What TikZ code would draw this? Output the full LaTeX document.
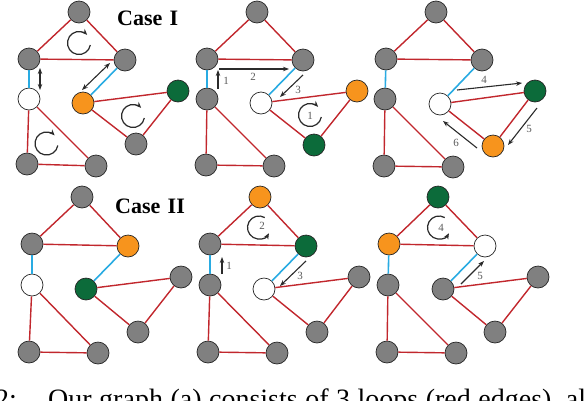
\documentclass[tikz,border=0pt]{standalone}
\usepackage{fontspec}
\setmainfont{Liberation Serif}
\usetikzlibrary{arrows.meta}
\definecolor{ngray}{HTML}{808080}
\definecolor{norange}{HTML}{F7941D}
\definecolor{ngreen}{HTML}{0C6B3A}
\definecolor{ered}{HTML}{C1272D}
\definecolor{eblue}{HTML}{29ABE2}
\definecolor{arrc}{HTML}{2B2B2B}
\definecolor{lblc}{HTML}{5A5A5A}
\tikzset{
  nd/.style={circle, draw=black!85, line width=0.7pt, minimum size=22pt, inner sep=0pt},
  gr/.style={nd, fill=ngray},
  wh/.style={nd, fill=white},
  og/.style={nd, fill=norange},
  gn/.style={nd, fill=ngreen},
  re/.style={draw=ered, line width=1.4pt},
  be/.style={draw=eblue, line width=1.6pt},
  ar/.style={draw=arrc, line width=1.1pt, -{Stealth[length=6pt,width=4.5pt]}},
  dar/.style={draw=arrc, line width=1.1pt, {Stealth[length=6pt,width=4.5pt]}-{Stealth[length=6pt,width=4.5pt]}},
  loopa/.style={draw=arrc, line width=1.2pt, -{Stealth[length=6pt,width=5pt]}},
  lbl/.style={inner sep=0pt, text=lblc, font=\fontsize{11}{12}\selectfont},
  casel/.style={inner sep=0pt, anchor=base west, font=\fontsize{22}{24}\selectfont\bfseries},
}
\newcommand{\panelEdges}[1]{%
  \draw[re] (#1 1) -- (#1 2); \draw[re] (#1 1) -- (#1 3); \draw[re] (#1 2) -- (#1 3);
  \draw[re] (#1 5) -- (#1 6); \draw[re] (#1 5) -- (#1 7); \draw[re] (#1 6) -- (#1 7);
  \draw[re] (#1 4) -- (#1 8); \draw[re] (#1 4) -- (#1 9); \draw[re] (#1 8) -- (#1 9);
  \draw[be] (#1 2) -- (#1 4); \draw[be] (#1 3) -- (#1 5);
}
\begin{document}
\begin{tikzpicture}[x=1pt, y=-1pt]
\useasboundingbox (0,0) rectangle (584,400);
% ---------- Row 1, panel a
\node[gr] (a 1) at (79,12) {};
\node[gr] (a 2) at (29,59) {};
\node[gr] (a 3) at (125,60) {};
\node[wh] (a 4) at (29,99) {};
\node[og] (a 5) at (83,103) {};
\node[gn] (a 6) at (178,91) {};
\node[gr] (a 7) at (136,144) {};
\node[gr] (a 8) at (27,164) {};
\node[gr] (a 9) at (96,166) {};
\panelEdges{a}
\coordinate (av1) at (40,68); \coordinate (av2) at (40,90);
\draw[dar] (av1) -- (av2);
\coordinate (ad1) at (110,63); \coordinate (ad2) at (82,90);
\draw[dar] (ad1) -- (ad2);
\draw[loopa] (79,43) ++(10:11.5) arc[start angle=10, end angle=315, radius=11.5];
\draw[loopa] (133,116) ++(10:11.5) arc[start angle=10, end angle=315, radius=11.5];
\draw[loopa] (46.5,143.5) ++(10:11.5) arc[start angle=10, end angle=315, radius=11.5];
\node[casel] (case1) at (117,25) {Case\,\,I};
% ---------- Row 1, panel b
\node[gr] (b 1) at (257,12) {};
\node[gr] (b 2) at (207,59) {};
\node[gr] (b 3) at (303,60) {};
\node[gr] (b 4) at (207,99) {};
\node[wh] (b 5) at (261,103) {};
\node[og] (b 6) at (357,91) {};
\node[gn] (b 7) at (314,145) {};
\node[gr] (b 8) at (206,165) {};
\node[gr] (b 9) at (274,166) {};
\panelEdges{b}
\coordinate (b1s) at (218,89); \coordinate (b1e) at (218,70);
\draw[ar] (b1s) -- (b1e);
\node[lbl] (b1l) at (226,81) {1};
\coordinate (b2s) at (219,69); \coordinate (b2e) at (289,69);
\draw[ar] (b2s) -- (b2e);
\node[lbl] (b2l) at (253,77) {2};
\coordinate (b3s) at (303,75); \coordinate (b3e) at (280,97);
\draw[ar] (b3s) -- (b3e);
\node[lbl] (b3l) at (298,90) {3};
\draw[loopa] (310,115) ++(10:11.5) arc[start angle=10, end angle=315, radius=11.5];
\node[lbl] (bl1) at (310,116) {1};
% ---------- Row 1, panel c
\node[gr] (c 1) at (436,12) {};
\node[gr] (c 2) at (386,59) {};
\node[gr] (c 3) at (482,60) {};
\node[gr] (c 4) at (385,99) {};
\node[wh] (c 5) at (440,104) {};
\node[gn] (c 6) at (535,91) {};
\node[og] (c 7) at (493,146) {};
\node[gr] (c 8) at (384,166) {};
\node[gr] (c 9) at (453,167) {};
\panelEdges{c}
\coordinate (c4s) at (457,90); \coordinate (c4e) at (522,83);
\draw[ar] (c4s) -- (c4e);
\node[lbl] (c4l) at (484,80) {4};
\coordinate (c5s) at (537,108); \coordinate (c5e) at (508,145);
\draw[ar] (c5s) -- (c5e);
\node[lbl] (c5l) at (529,129) {5};
\coordinate (c6s) at (477,148); \coordinate (c6e) at (443,121);
\draw[ar] (c6s) -- (c6e);
\node[lbl] (c6l) at (456,143) {6};
% ---------- Row 2, panel d
\node[gr] (d 1) at (82,197) {};
\node[gr] (d 2) at (32,244) {};
\node[og] (d 3) at (128,246) {};
\node[wh] (d 4) at (32,285) {};
\node[gn] (d 5) at (86,289) {};
\node[gr] (d 6) at (181,277) {};
\node[gr] (d 7) at (138,332) {};
\node[gr] (d 8) at (29,352) {};
\node[gr] (d 9) at (98,353) {};
\panelEdges{d}
\node[casel] (case2) at (115,213) {Case\,\,II};
% ---------- Row 2, panel e
\node[og] (e 1) at (260,197) {};
\node[gr] (e 2) at (210,244) {};
\node[gn] (e 3) at (306,246) {};
\node[gr] (e 4) at (210,285) {};
\node[wh] (e 5) at (264,289) {};
\node[gr] (e 6) at (359,277) {};
\node[gr] (e 7) at (317,332) {};
\node[gr] (e 8) at (208,352) {};
\node[gr] (e 9) at (277,353) {};
\panelEdges{e}
\coordinate (e1s) at (222,274); \coordinate (e1e) at (222,257);
\draw[ar] (e1s) -- (e1e);
\node[lbl] (e1l) at (229,266) {1};
\draw[loopa] (259,227.5) ++(300:11.5) arc[start angle=300, end angle=30, radius=11.5];
\node[lbl] (el2) at (262,226) {2};
\coordinate (e3s) at (306,261); \coordinate (e3e) at (280,286);
\draw[ar] (e3s) -- (e3e);
\node[lbl] (e3l) at (300,276) {3};
% ---------- Row 2, panel f
\node[gn] (f 1) at (438,197) {};
\node[og] (f 2) at (389,244) {};
\node[wh] (f 3) at (485,246) {};
\node[gr] (f 4) at (388,285) {};
\node[gr] (f 5) at (443,289) {};
\node[gr] (f 6) at (538,277) {};
\node[gr] (f 7) at (495,332) {};
\node[gr] (f 8) at (387,352) {};
\node[gr] (f 9) at (456,353) {};
\panelEdges{f}
\draw[loopa] (439,227.5) ++(300:11.5) arc[start angle=300, end angle=30, radius=11.5];
\node[lbl] (fl4) at (441,228) {4};
\coordinate (f5s) at (461,284); \coordinate (f5e) at (484,261);
\draw[ar] (f5s) -- (f5e);
\node[lbl] (f5l) at (480,276) {5};
% ---------- cut-off caption
\node[inner sep=0pt, anchor=base east, font=\fontsize{28}{30}\selectfont] (cap0) at (17,408) {2:};
\node[inner sep=0pt, anchor=base west, font=\fontsize{28}{30}\selectfont] (cap1) at (48,408)
  {\hbox to 538pt{Our\hfill graph\hfill (a)\hfill consists\hfill of\hfill 3\hfill loops\hfill (red\hfill edges),\hfill al}};
\end{tikzpicture}
\end{document}
